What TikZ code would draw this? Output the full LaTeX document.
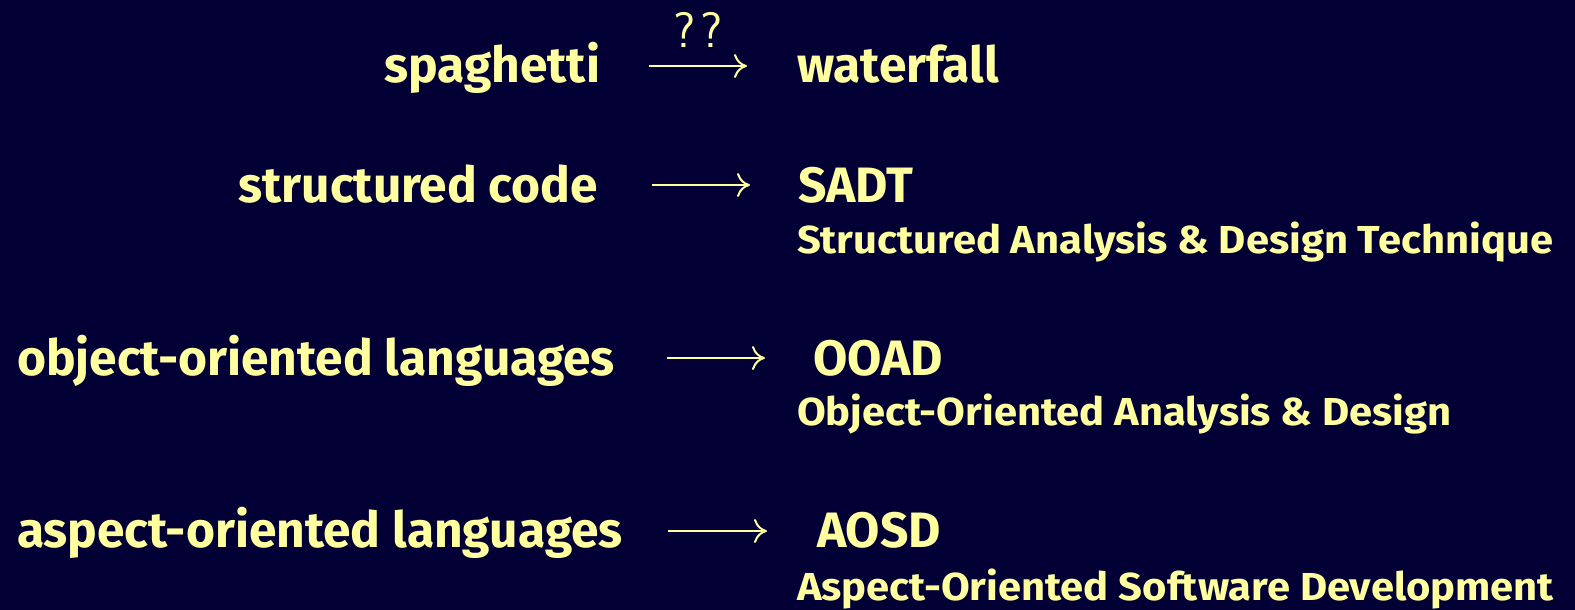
\documentclass[tikz,border=0pt]{standalone}
\usepackage{fontspec}
\setmainfont{Fira Sans}
\newfontfamily\glossfont{Fira Sans}[FakeStretch=1.07]
\usetikzlibrary{arrows.meta}

\definecolor{slidebg}{RGB}{2,0,52}
\definecolor{chalk}{RGB}{255,255,160}

\tikzset{
  term/.style={text=chalk, inner sep=0pt, outer sep=0pt,
    font=\fontsize{49.7}{54}\selectfont\bfseries},
  gloss/.style={text=chalk, inner sep=0pt, outer sep=0pt,
    font=\glossfont\fontsize{39}{43}\selectfont\bfseries},
  query/.style={text=chalk, inner sep=0pt, outer sep=0pt,
    font=\fontsize{50}{54}\selectfont\sffamily},
  leadsto/.style={draw=chalk, line width=2pt,
    -{Computer Modern Rightarrow[length=13pt,width=24pt]}}
}

\begin{document}
\begin{tikzpicture}[x=1pt,y=-1pt]
  % slide background
  \fill[slidebg] (0,0) rectangle (1575,610);
  \useasboundingbox (0,0) rectangle (1575,610);

  % row 1
  \node[term, anchor=base east] (src1) at (600,82) {spaghetti};
  \node[term, anchor=base west] (dst1) at (797,82) {waterfall};
  \coordinate (a1s) at (649,66);
  \coordinate (a1e) at (747,66);
  \draw[leadsto] (a1s) -- (a1e);
  \node[query, anchor=base] (q1) at (698,48) {?\kern5pt?};

  % row 2
  \node[term, anchor=base east] (src2) at (598,202) {structured code};
  \node[term, anchor=base west] (dst2) at (798,202) {SADT};
  \node[gloss, anchor=base west] (exp2) at (797,253) {Structured Analysis \& Design Technique};
  \coordinate (a2s) at (652,185);
  \coordinate (a2e) at (750,185);
  \draw[leadsto] (a2s) -- (a2e);

  % row 3
  \node[term, anchor=base west] (src3) at (17,375) {object-oriented languages};
  \node[term, anchor=base west] (dst3) at (813,375) {OOAD};
  \node[gloss, anchor=base west] (exp3) at (797,425) {Object-Oriented Analysis \& Design};
  \coordinate (a3s) at (667,358);
  \coordinate (a3e) at (765,358);
  \draw[leadsto] (a3s) -- (a3e);

  % row 4
  \node[term, anchor=base west] (src4) at (17,547) {aspect-oriented languages};
  \node[term, anchor=base west] (dst4) at (817,547) {AOSD};
  \node[gloss, anchor=base west] (exp4) at (797,600) {Aspect-Oriented Software Development};
  \coordinate (a4s) at (668,531);
  \coordinate (a4e) at (767,531);
  \draw[leadsto] (a4s) -- (a4e);
\end{tikzpicture}
\end{document}
